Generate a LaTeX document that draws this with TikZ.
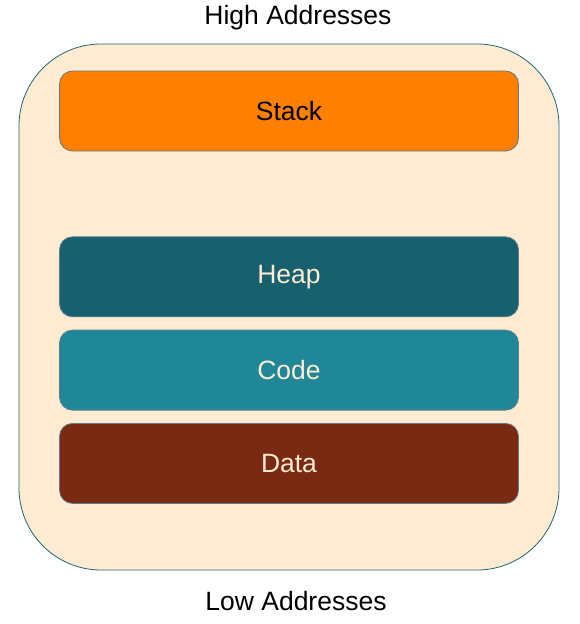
\documentclass[tikz,border=0pt]{standalone}
\usepackage{fontspec}
\setmainfont{Liberation Sans}
\usetikzlibrary{positioning}
\definecolor{shell}{HTML}{FFEBD2}
\definecolor{shellline}{HTML}{1B6670}
\definecolor{boxline}{HTML}{5E7C8C}
\definecolor{stackc}{HTML}{FF8000}
\definecolor{heapc}{HTML}{17616E}
\definecolor{codec}{HTML}{1F8798}
\definecolor{datac}{HTML}{7A2A12}
\begin{document}
\begin{tikzpicture}[x=1pt,y=-1pt,
    segment/.style={draw=boxline,line width=0.8pt,rounded corners=13pt,
      minimum width=459pt,minimum height=80pt,inner sep=0pt,
      font=\fontsize{26.5}{30}\selectfont},
    caption/.style={font=\fontsize{26.5}{30}\selectfont,inner sep=0pt}]
		\useasboundingbox (0,0) rectangle (579,624);
		\node[draw=shellline,fill=shell,line width=0.8pt,rounded corners=82pt,
		  minimum width=540pt,minimum height=526pt] (memory) at (289,307) {};
		\node[segment,fill=stackc,text=black] (stack) at (289,111) {Stack};
		\node[segment,fill=heapc,text=shell,below=85pt of stack] (heap) {Heap};
		\node[segment,fill=codec,text=shell,below=12.5pt of heap] (code) {Code};
		\node[segment,fill=datac,text=shell,below=12.5pt of code] (data) {Data};
		\node[caption] (high) at (298,18) {High Addresses};
		\node[caption] (low) at (296,601) {Low Addresses};
\end{tikzpicture}
\end{document}
